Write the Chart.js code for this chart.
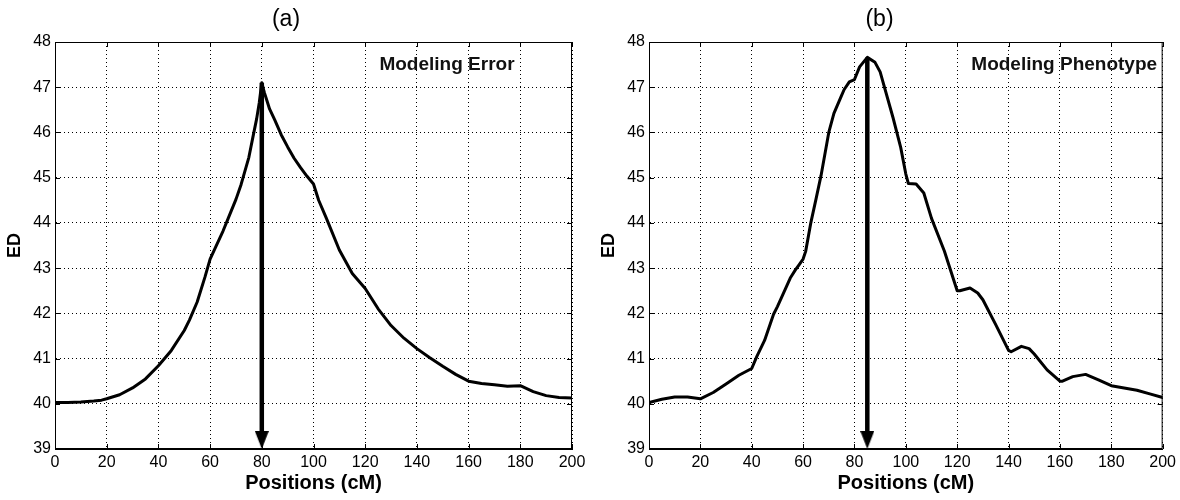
<!DOCTYPE html>
<html>
<head>
<meta charset="utf-8">
<script src="https://cdn.jsdelivr.net/npm/chart.js@4.4.1/dist/chart.umd.min.js"></script>
<style>
  body { margin: 0; background: #fff; }
  #wrap { position: relative; width: 1180px; height: 500px; overflow: hidden; background: #fff; }
  canvas { position: absolute; top: 0; }
</style>
</head>
<body>
<div id="wrap">
  <canvas id="chartA" width="590" height="500" style="left:0"></canvas>
  <canvas id="chartB" width="586" height="500" style="left:594px"></canvas>
</div>
<script>
// valores (posicao em cM, ED)
const posA = [0, 5, 10, 15, 18, 20, 25, 30, 35, 40, 45, 50, 52, 55, 58, 60, 62, 65, 67, 70, 72,
              75, 76.5, 78, 79, 80, 81, 82, 83, 85, 87.5, 90, 92.5, 95, 97.5, 100, 102, 105,
              110, 115, 120, 125, 130, 135, 140, 145, 150, 155, 160, 165, 170, 175, 180, 185,
              190, 195, 200];
const edA  = [40.03, 40.03, 40.04, 40.06, 40.08, 40.11, 40.2, 40.35, 40.55, 40.84, 41.18, 41.62,
              41.85, 42.25, 42.8, 43.2, 43.45, 43.82, 44.1, 44.52, 44.85,
              45.45, 45.88, 46.3, 46.65, 47.1, 46.88, 46.7, 46.52, 46.28, 45.95, 45.68, 45.43,
              45.22, 45.03, 44.86, 44.5, 44.1,
              43.4, 42.88, 42.55, 42.1, 41.73, 41.45, 41.22, 41.02, 40.83, 40.65, 40.5, 40.45,
              40.42, 40.39, 40.4, 40.27, 40.18, 40.14, 40.13];

const posB = [0, 5, 10, 15, 20, 25, 30, 35, 40, 42, 45, 48.5, 50, 55, 57, 58, 60, 61, 63, 65, 67,
              70, 72, 75, 76, 78, 80, 82, 85, 88, 90, 95, 98, 100, 101, 104, 107, 110, 115, 120,
              121, 125, 128, 130, 135, 140, 141, 145, 148, 150, 155, 160, 161, 165, 170, 175,
              180, 185, 190, 195, 200];
const edB  = [40.03, 40.1, 40.15, 40.15, 40.11, 40.25, 40.44, 40.63, 40.78, 41.05, 41.4, 41.98,
              42.15, 42.78, 42.96, 43.04, 43.2, 43.37, 44.0, 44.52, 45.05,
              46.0, 46.42, 46.82, 46.95, 47.12, 47.17, 47.45, 47.66, 47.55, 47.34, 46.33, 45.67,
              45.08, 44.87, 44.86, 44.66, 44.1, 43.38, 42.5,
              42.5, 42.56, 42.45, 42.3, 41.75, 41.18, 41.15, 41.27, 41.22, 41.1, 40.75, 40.5,
              40.5, 40.6, 40.65, 40.53, 40.4, 40.35, 40.3, 40.22, 40.14];

const xTicks = [0, 20, 40, 60, 80, 100, 120, 140, 160, 180, 200];
const yTicks = [39, 40, 41, 42, 43, 44, 45, 46, 47, 48];

// seta: posicao do pico, topo e base
const setaA = { x: 80, topo: 47.1, base: 39 };
const setaB = { x: 85, topo: 47.66, base: 39 };

const notaX = 125.5;
const notaY = 47.5;

Chart.defaults.font.family = '"Liberation Sans", Arial, Helvetica, sans-serif';
Chart.defaults.color = '#000';

// ponta da seta (triangulo estreito, ponta no centro da imagem)
function pontaSeta() {
    const c = document.createElement('canvas');
    c.width = 14;
    c.height = 36;
    const g = c.getContext('2d');
    g.fillStyle = '#000';
    g.beginPath();
    g.moveTo(0, 0);
    g.lineTo(14, 0);
    g.lineTo(7, 18);
    g.closePath();
    g.fill();
    return c;
}
const ponta = pontaSeta();

// moldura, marcas internas e texto dentro do grafico
const molduraPlugin = {
    id: 'moldura',
    afterDatasetsDraw(chart, args, opts) {
        const { ctx, chartArea: a, scales } = chart;
        ctx.save();
        ctx.strokeStyle = '#000';
        ctx.lineWidth = 1;
        ctx.strokeRect(a.left + 0.5, a.top + 0.5, a.right - a.left - 1, a.bottom - a.top - 1);
        ctx.beginPath();
        xTicks.forEach(v => {
            const px = Math.round(scales.x.getPixelForValue(v)) + 0.5;
            ctx.moveTo(px, a.bottom);
            ctx.lineTo(px, a.bottom - 5);
            ctx.moveTo(px, a.top);
            ctx.lineTo(px, a.top + 5);
        });
        yTicks.forEach(v => {
            const py = Math.round(scales.y.getPixelForValue(v)) + 0.5;
            ctx.moveTo(a.left, py);
            ctx.lineTo(a.left + 5, py);
            ctx.moveTo(a.right, py);
            ctx.lineTo(a.right - 5, py);
        });
        ctx.stroke();
        ctx.fillStyle = '#111';
        ctx.font = 'bold 19px "Liberation Sans", Arial, sans-serif';
        ctx.textAlign = 'left';
        ctx.textBaseline = 'middle';
        ctx.fillText(opts.texto, scales.x.getPixelForValue(notaX), scales.y.getPixelForValue(notaY));
        ctx.restore();
    }
};

function plotarPainel(id, pos, ed, seta, titulo, texto, padDir) {
    const ctx = document.getElementById(id).getContext('2d');
    return new Chart(ctx, {
        type: 'line',
        data: {
            datasets: [{
                data: [{ x: seta.x, y: seta.base }],
                showLine: false,
                pointStyle: ponta,
                pointRadius: 5,
                pointHoverRadius: 5
            }, {
                data: [{ x: seta.x, y: seta.topo }, { x: seta.x, y: seta.base + 0.3 }],
                borderColor: '#000',
                borderWidth: 4.5,
                pointRadius: 0,
                tension: 0
            }, {
                data: pos.map((p, i) => ({ x: p, y: ed[i] })),
                borderColor: '#000',
                borderWidth: 3,
                pointRadius: 0,
                tension: 0,
                borderJoinStyle: 'round',
                borderCapStyle: 'round'
            }]
        },
        options: {
            responsive: false,
            animation: false,
            events: [],
            layout: { padding: { left: 0, right: padDir, top: 0, bottom: 0 } },
            plugins: {
                legend: { display: false },
                tooltip: { enabled: false },
                title: {
                    display: true,
                    text: titulo,
                    color: '#000',
                    font: { size: 23, weight: 'normal', lineHeight: '26px' },
                    padding: { top: 7, bottom: 9 }
                },
                moldura: { texto: texto }
            },
            scales: {
                x: {
                    type: 'linear',
                    min: 0,
                    max: 200,
                    afterBuildTicks: s => { s.ticks = xTicks.map(v => ({ value: v })); },
                    afterFit: s => { s.height = 51; },
                    ticks: { font: { size: 16 }, color: '#000', padding: 4, maxRotation: 0 },
                    grid: { color: '#000', lineWidth: 1, drawTicks: false },
                    border: { display: true, color: '#000', width: 1, dash: [1, 3] },
                    title: {
                        display: true,
                        text: 'Positions (cM)',
                        color: '#000',
                        font: { size: 20, weight: 'bold' },
                        padding: { top: 0, bottom: 5 }
                    }
                },
                y: {
                    min: 39,
                    max: 48,
                    afterBuildTicks: s => { s.ticks = yTicks.map(v => ({ value: v })); },
                    afterFit: s => { s.width = 55; },
                    ticks: { font: { size: 16 }, color: '#000', padding: 4 },
                    grid: { color: '#000', lineWidth: 1, drawTicks: false },
                    border: { display: true, color: '#000', width: 1, dash: [1, 3] },
                    title: {
                        display: true,
                        text: 'ED',
                        color: '#000',
                        font: { size: 18, weight: 'bold' },
                        padding: { top: 4, bottom: 0 }
                    }
                }
            }
        },
        plugins: [molduraPlugin]
    });
}

plotarPainel('chartA', posA, edA, setaA, '(a)', 'Modeling Error', 18);
plotarPainel('chartB', posB, edB, setaB, '(b)', 'Modeling Phenotype', 15);
</script>
</body>
</html>
